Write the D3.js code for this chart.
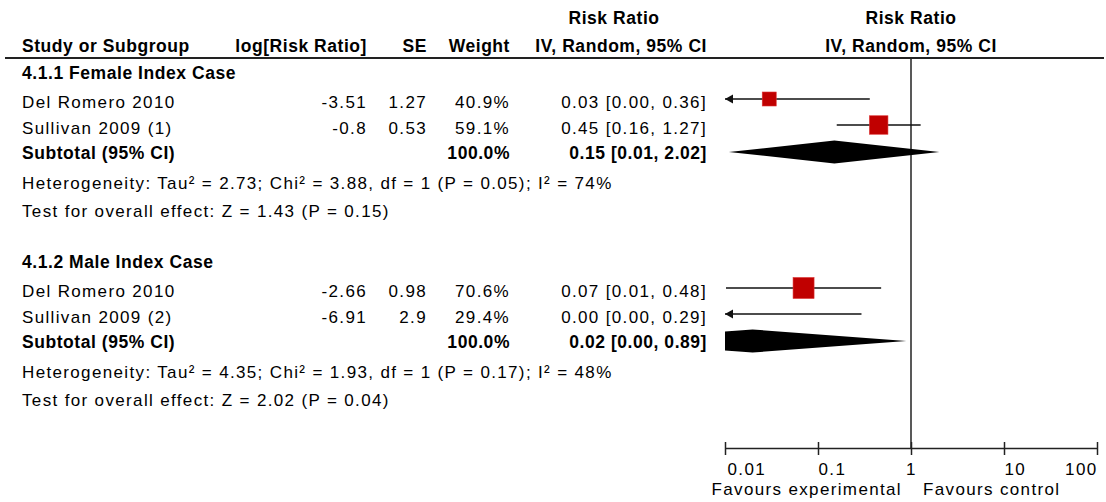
<!DOCTYPE html>
<html>
<head>
<meta charset="utf-8">
<script src="https://cdn.jsdelivr.net/npm/d3@7"></script>
<style>
  body { margin: 0; background: #fff; }
  svg text { font-family: "Liberation Sans", Arial, sans-serif; fill: #000; }
  .reg { font-size: 17px; letter-spacing: 1.35px; }
  .bold { font-size: 17.5px; font-weight: bold; letter-spacing: 0.55px; }
</style>
</head>
<body>
<script>
// data
const groupNames = ['4.1.1 Female Index Case', '4.1.2 Male Index Case'];
const studyNames = ['Del Romero 2010', 'Sullivan 2009 (1)', 'Del Romero 2010', 'Sullivan 2009 (2)'];
const studyGroup = [0, 0, 1, 1];
const logRR = [-3.51, -0.8, -2.66, -6.91];
const stdErr = [1.27, 0.53, 0.98, 2.9];
const weights = [40.9, 59.1, 70.6, 29.4];
const ciLabels = ['0.03 [0.00, 0.36]', '0.45 [0.16, 1.27]', '0.07 [0.01, 0.48]', '0.00 [0.00, 0.29]'];

const subtotalRR = [0.15, 0.0198];
const subtotalLow = [0.011, 0.00044];
const subtotalHigh = [2.02, 0.89];
const subtotalLabels = ['0.15 [0.01, 2.02]', '0.02 [0.00, 0.89]'];
const heterogeneity = [
  'Heterogeneity: Tau\u00b2 = 2.73; Chi\u00b2 = 3.88, df = 1 (P = 0.05); I\u00b2 = 74%',
  'Heterogeneity: Tau\u00b2 = 4.35; Chi\u00b2 = 1.93, df = 1 (P = 0.17); I\u00b2 = 48%'
];
const overallEffect = [
  'Test for overall effect: Z = 1.43 (P = 0.15)',
  'Test for overall effect: Z = 2.02 (P = 0.04)'
];

const axisTicks = [0.01, 0.1, 1, 10, 100];
const axisTickLabels = ['0.01', '0.1', '1', '10', '100'];
const tickAnchors = ['start', 'start', 'middle', 'start', 'end'];

const width = 1106;
const height = 502;

// column edges
const colName = 22;
const colLog = 367;
const colSE = 427;
const colWeight = 510;
const colCI = 707;
const axisY = 448;
const topLine = 58;

const x = d3.scaleLog().domain([0.01, 100]).range([725, 1097]);
const boxSize = d3.scalePow().exponent(0.5).domain([40.9, 70.6]).range([14, 21]);

// vertical layout: one row list, y accumulated from step sizes
const rows = [];
let yPos = 72;
groupNames.forEach((g, gi) => {
  if (gi > 0) yPos += 51;
  rows.push({ type: 'group', g: gi, y: yPos });
  studyNames.forEach((s, i) => {
    if (studyGroup[i] !== gi) return;
    yPos += 27 - (rows[rows.length - 1].type === 'study' ? 1 : 0);
    rows.push({ type: 'study', g: gi, i, y: yPos });
  });
  yPos += 27; rows.push({ type: 'subtotal', g: gi, y: yPos });
  yPos += 30; rows.push({ type: 'het', g: gi, y: yPos });
  yPos += 28; rows.push({ type: 'test', g: gi, y: yPos });
});

const svg = d3.select('body').append('svg')
  .attr('width', width)
  .attr('height', height)
  .attr('viewBox', [0, 0, width, height]);

// column headers
const head = svg.append('g');
head.append('text').attr('class', 'bold').attr('x', colName).attr('y', 52).text('Study or Subgroup');
head.append('text').attr('class', 'bold').attr('x', colLog).attr('y', 52).attr('text-anchor', 'end').text('log[Risk Ratio]');
head.append('text').attr('class', 'bold').attr('x', colSE).attr('y', 52).attr('text-anchor', 'end').text('SE');
head.append('text').attr('class', 'bold').attr('x', colWeight).attr('y', 52).attr('text-anchor', 'end').text('Weight');
head.append('text').attr('class', 'bold').attr('x', 614).attr('y', 24).attr('text-anchor', 'middle').text('Risk Ratio');
head.append('text').attr('class', 'bold').attr('x', colCI).attr('y', 52).attr('text-anchor', 'end').text('IV, Random, 95% CI');
head.append('text').attr('class', 'bold').attr('x', x(1)).attr('y', 24).attr('text-anchor', 'middle').text('Risk Ratio');
head.append('text').attr('class', 'bold').attr('x', x(1)).attr('y', 52).attr('text-anchor', 'middle').text('IV, Random, 95% CI');

svg.append('line')
  .attr('x1', 5).attr('x2', 1104)
  .attr('y1', topLine).attr('y2', topLine)
  .attr('stroke', '#222').attr('stroke-width', 2);

// line of no effect
svg.append('line')
  .attr('x1', x(1)).attr('x2', x(1))
  .attr('y1', topLine).attr('y2', axisY)
  .attr('stroke', '#222').attr('stroke-width', 1.5);

const txt = svg.append('g');
rows.forEach((r) => {
  const base = r.y + 7;
  if (r.type === 'group') {
    txt.append('text').attr('class', 'bold').attr('x', colName).attr('y', base).text(groupNames[r.g]);
  } else if (r.type === 'study') {
    const i = r.i;
    const b = base + 1.5;
    txt.append('text').attr('class', 'reg').attr('x', colName).attr('y', b).text(studyNames[i]);
    txt.append('text').attr('class', 'reg').attr('x', colLog).attr('y', b).attr('text-anchor', 'end').text(String(logRR[i]));
    txt.append('text').attr('class', 'reg').attr('x', colSE).attr('y', b).attr('text-anchor', 'end').text(String(stdErr[i]));
    txt.append('text').attr('class', 'reg').attr('x', colWeight).attr('y', b).attr('text-anchor', 'end').text(weights[i].toFixed(1) + '%');
    txt.append('text').attr('class', 'reg').attr('x', colCI).attr('y', b).attr('text-anchor', 'end').text(ciLabels[i]);
  } else if (r.type === 'subtotal') {
    txt.append('text').attr('class', 'bold').attr('x', colName).attr('y', base).text('Subtotal (95% CI)');
    txt.append('text').attr('class', 'bold').attr('x', colWeight).attr('y', base).attr('text-anchor', 'end').text('100.0%');
    txt.append('text').attr('class', 'bold').attr('x', colCI).attr('y', base).attr('text-anchor', 'end').text(subtotalLabels[r.g]);
  } else if (r.type === 'het') {
    txt.append('text').attr('class', 'reg').attr('x', colName).attr('y', base).text(heterogeneity[r.g]);
  } else {
    txt.append('text').attr('class', 'reg').attr('x', colName).attr('y', base).text(overallEffect[r.g]);
  }
});

// clip for marks to the axis range
svg.append('clipPath').attr('id', 'plotclip')
  .append('rect')
  .attr('x', x.range()[0]).attr('width', x.range()[1] - x.range()[0])
  .attr('y', 0).attr('height', height);

const [xmin, xmax] = x.domain();
const studyRows = rows.filter((r) => r.type === 'study').map((r) => {
  const i = r.i;
  return {
    y: r.y,
    rr: Math.exp(logRR[i]),
    lo: Math.exp(logRR[i] - 1.96 * stdErr[i]),
    hi: Math.exp(logRR[i] + 1.96 * stdErr[i]),
    w: weights[i]
  };
});

const marks = svg.append('g');
marks.selectAll('line.ci')
  .data(studyRows)
  .join('line')
  .attr('class', 'ci')
  .attr('x1', (d) => x(Math.max(d.lo, xmin)))
  .attr('x2', (d) => x(Math.min(d.hi, xmax)))
  .attr('y1', (d) => d.y).attr('y2', (d) => d.y)
  .attr('stroke', '#111').attr('stroke-width', 1.5);

marks.selectAll('path.arrow')
  .data(studyRows.filter((d) => d.lo < xmin))
  .join('path')
  .attr('class', 'arrow')
  .attr('d', (d) => {
    const x0 = x(xmin);
    return `M${x0},${d.y}L${x0 + 8},${d.y - 4.5}L${x0 + 8},${d.y + 4.5}Z`;
  })
  .attr('fill', '#111');

marks.selectAll('rect.box')
  .data(studyRows.filter((d) => d.rr >= xmin && d.rr <= xmax))
  .join('rect')
  .attr('class', 'box')
  .attr('x', (d) => x(d.rr) - boxSize(d.w) / 2)
  .attr('y', (d) => d.y - boxSize(d.w) / 2)
  .attr('width', (d) => boxSize(d.w))
  .attr('height', (d) => boxSize(d.w))
  .attr('fill', '#c00000')
  .attr('stroke', '#d33')
  .attr('stroke-width', 0.6);

const subRows = rows.filter((r) => r.type === 'subtotal').map((r) => ({
  y: r.y, rr: subtotalRR[r.g], lo: subtotalLow[r.g], hi: subtotalHigh[r.g]
}));
const dh = 11.5;
marks.append('g').attr('clip-path', 'url(#plotclip)')
  .selectAll('path')
  .data(subRows)
  .join('path')
  .attr('d', (d) => `M${x(d.lo)},${d.y}L${x(d.rr)},${d.y - dh}L${x(d.hi)},${d.y}L${x(d.rr)},${d.y + dh}Z`)
  .attr('fill', '#000');

// axis
const gAxis = svg.append('g')
  .attr('transform', `translate(0,${axisY})`)
  .call(d3.axisBottom(x).tickValues(axisTicks).tickFormat((d, i) => axisTickLabels[i]).tickSize(7).tickSizeOuter(0));

gAxis.select('.domain').attr('stroke', '#222').attr('stroke-width', 1.5);
gAxis.selectAll('.tick line').attr('y1', -6).attr('y2', 7).attr('stroke', '#222').attr('stroke-width', 1.5);
gAxis.selectAll('.tick text')
  .attr('class', 'reg')
  .attr('fill', '#000')
  .attr('x', (d, i) => (i === 0 ? 2 : 0))
  .attr('y', 15)
  .attr('text-anchor', (d, i) => tickAnchors[i]);
gAxis.attr('font-family', null).attr('font-size', null);

svg.append('text').attr('class', 'reg').attr('x', x(1) - 9).attr('y', 495).attr('text-anchor', 'end').text('Favours experimental');
svg.append('text').attr('class', 'reg').attr('x', x(1) + 12).attr('y', 495).text('Favours control');
</script>
</body>
</html>
